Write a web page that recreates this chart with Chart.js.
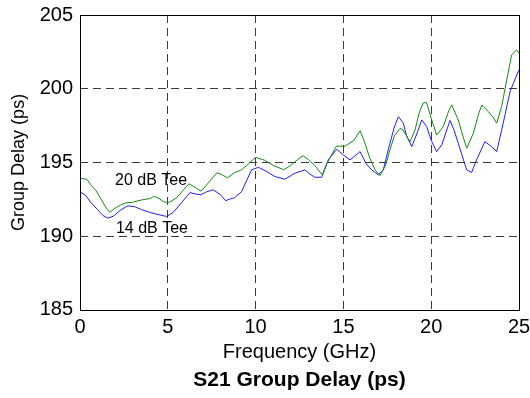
<!DOCTYPE html>
<html>
<head>
<meta charset="utf-8">
<script src="https://cdn.jsdelivr.net/npm/chart.js@4.4.0/dist/chart.umd.min.js"></script>
<style>
  body { margin: 0; background: #fff; }
  canvas { display: block; }
</style>
</head>
<body>
<canvas id="myChart" width="530" height="398"></canvas>
<script>
// 20 dB Tee (green)
const freqG = [0, 0.4, 0.6, 0.9, 1.2, 1.5, 1.7, 2.0, 2.3, 2.6, 3.0, 3.5, 4.0, 4.2, 4.5, 4.8, 5.1, 5.5, 5.8, 6.2,
  6.5, 6.9, 7.3, 7.8, 8.1, 8.4, 8.8, 9.2, 9.6, 10.0, 10.5, 11.0, 11.6, 12.0, 12.4, 12.7, 13.0, 13.4, 13.8, 14.05,
  14.6, 15.1, 15.6, 15.95, 16.2, 16.5, 16.8, 17.08, 17.4, 17.65, 17.9, 18.22, 18.4, 18.79, 19.08, 19.3, 19.55, 19.74, 20.0, 20.31,
  20.69, 21.0, 21.17, 21.54, 21.8, 22.02, 22.4, 22.7, 22.88, 23.25, 23.5, 23.73, 24.01, 24.3, 24.58, 24.87, 25];
const delayG = [193.93, 193.85, 193.5, 193.1, 192.5, 191.9, 191.62, 191.9, 192.1, 192.25, 192.3, 192.45, 192.55, 192.7, 192.55, 192.3, 192.3, 192.6, 193.0, 193.55,
  193.35, 193.05, 193.6, 194.3, 194.15, 193.95, 194.3, 194.5, 194.9, 195.35, 195.15, 194.8, 194.5, 194.8, 195.2, 195.45, 195.2, 194.75, 194.15, 194.9,
  196.1, 196.1, 196.5, 197.15, 196.4, 195.3, 194.5, 194.1, 194.8, 195.85, 196.8, 197.3, 197.2, 196.4, 197.2, 198.3, 199.05, 199.05, 198.0, 196.86,
  197.43, 198.5, 198.9, 197.88, 196.8, 195.96, 196.98, 198.3, 198.9, 198.44, 198.1, 197.66, 198.79, 200.59, 202.29, 202.63, 202.4];

// 14 dB Tee (blue)
const freqB = [0, 0.3, 0.6, 1.0, 1.3, 1.6, 1.9, 2.3, 2.7, 3.1, 3.5, 4.0, 4.5, 4.94, 5.3, 5.8, 6.26, 6.6, 6.9, 7.2,
  7.59, 8.0, 8.3, 8.5, 8.8, 9.2, 9.5, 9.77, 10.16, 10.6, 11.1, 11.67, 12.24, 12.81, 13.1, 13.38, 13.76, 14.14, 14.62, 15.0,
  15.38, 15.95, 16.3, 16.61, 16.99, 17.27, 17.65, 17.9, 18.13, 18.41, 18.6, 18.89, 19.2, 19.46, 19.74, 20.0, 20.31, 20.6, 21.07, 21.3,
  21.54, 22.02, 22.3, 22.58, 23.06, 23.44, 23.73, 24.1, 24.49, 24.87, 25];
const delayB = [192.98, 192.8, 192.3, 191.8, 191.4, 191.22, 191.35, 191.75, 192.05, 192.0, 191.8, 191.6, 191.45, 191.33, 191.6, 192.3, 192.95, 192.85, 192.8, 193.0,
  193.14, 192.8, 192.4, 192.5, 192.6, 193.02, 193.8, 194.49, 194.67, 194.4, 194.04, 193.86, 194.27, 194.49, 194.2, 193.99, 193.99, 195.17, 195.89, 195.5,
  195.17, 195.73, 194.9, 194.5, 194.15, 194.49, 196.3, 197.4, 198.1, 197.66, 196.8, 196.07, 197.0, 197.88, 197.43, 196.5, 195.73, 196.19, 197.84, 197.2,
  196.3, 194.49, 194.31, 195.17, 196.41, 196.07, 195.73, 197.66, 199.8, 200.93, 201.27];

const xTicks = [0, 5, 10, 15, 20, 25];
const yTicks = [185, 190, 195, 200, 205];

// curve labels: [text, frequency, delay]
const curveLabels = [["20 dB Tee", 4.05, 193.75], ["14 dB Tee", 4.1, 190.5]];

const fontName = "'Liberation Sans', Arial, sans-serif";

function toPoints(xs, ys) {
  const pts = [];
  for (let i = 0; i < xs.length; i++) pts.push({ x: xs[i], y: ys[i] });
  return pts;
}

const boxPlugin = {
  id: "box",
  afterDatasetsDraw(chart) {
    const ctx = chart.ctx;
    const a = chart.chartArea;
    const xs = chart.scales.x, ys = chart.scales.y;
    ctx.save();
    ctx.font = "16px " + fontName;
    ctx.fillStyle = "#000";
    ctx.textAlign = "center";
    ctx.textBaseline = "middle";
    curveLabels.forEach(l => {
      ctx.fillText(l[0], xs.getPixelForValue(l[1]), ys.getPixelForValue(l[2]));
    });
    ctx.setLineDash([]);
    ctx.strokeStyle = "#000";
    ctx.lineWidth = 1;
    ctx.strokeRect(Math.round(a.left) + 0.5, Math.round(a.top) + 0.5,
      Math.round(a.right - a.left), Math.round(a.bottom - a.top));
    ctx.restore();
  }
};

const gridColor = (min, max) => (c) =>
  (c.tick && (c.tick.value === min || c.tick.value === max)) ? "rgba(0,0,0,0)" : "#3a3a3a";

const config = {
  type: "line",
  data: {
    datasets: [
      {
        label: "20 dB Tee",
        data: toPoints(freqG, delayG),
        borderColor: "#158a15",
        borderWidth: 1,
        pointRadius: 0,
        tension: 0,
        fill: false,
      },
      {
        label: "14 dB Tee",
        data: toPoints(freqB, delayB),
        borderColor: "#1f1fff",
        borderWidth: 1,
        pointRadius: 0,
        tension: 0,
        fill: false,
      },
    ],
  },
  options: {
    responsive: false,
    animation: false,
    layout: { padding: { top: 15, right: 11, left: 0, bottom: 0 } },
    plugins: {
      legend: { display: false },
      tooltip: { enabled: false },
      title: {
        display: true,
        position: "bottom",
        fullSize: false,
        text: "S21 Group Delay (ps)",
        color: "#000",
        font: { family: fontName, size: 21, weight: "bold" },
        padding: { top: 3, bottom: 5 },
      },
    },
    scales: {
      x: {
        type: "linear",
        min: 0,
        max: 25,
        afterFit(scale) {
          scale.height = 55;
          scale.paddingLeft = 0;
          scale.paddingRight = 0;
        },
        afterBuildTicks(scale) { scale.ticks = xTicks.map(v => ({ value: v })); },
        ticks: { color: "#000", font: { family: fontName, size: 20 }, padding: 6, maxRotation: 0 },
        grid: { color: gridColor(0, 25), lineWidth: 1, drawTicks: false },
        border: { display: false, dash: [8, 5] },
        title: {
          display: true,
          text: "Frequency (GHz)",
          color: "#000",
          font: { family: fontName, size: 20 },
          padding: { top: 0, bottom: 0 },
        },
      },
      y: {
        type: "linear",
        min: 185,
        max: 205,
        afterFit(scale) {
          scale.width = 80;
          scale.paddingTop = 0;
          scale.paddingBottom = 0;
        },
        afterBuildTicks(scale) { scale.ticks = yTicks.map(v => ({ value: v })); },
        ticks: { color: "#000", font: { family: fontName, size: 20 }, padding: 7 },
        grid: { color: gridColor(185, 205), lineWidth: 1, drawTicks: false },
        border: { display: false, dash: [8, 5] },
        title: {
          display: true,
          text: "Group Delay (ps)",
          color: "#000",
          font: { family: fontName, size: 18 },
          padding: { top: 8, bottom: 0 },
        },
      },
    },
  },
  plugins: [boxPlugin],
};

const myChart = new Chart(document.getElementById("myChart"), config);
</script>
</body>
</html>
